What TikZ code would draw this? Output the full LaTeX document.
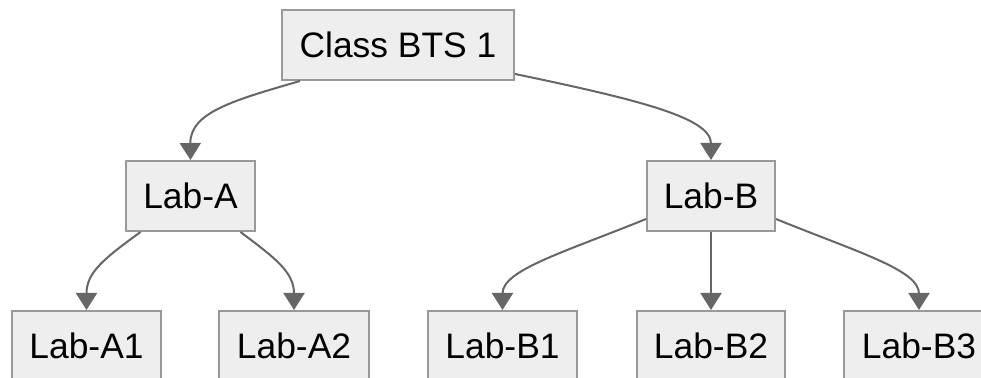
\documentclass[tikz,border=0pt]{standalone}
\usepackage{fontspec}
\setmainfont{Liberation Sans}
\usetikzlibrary{arrows.meta}
\definecolor{boxfill}{HTML}{EEEEEE}
\definecolor{boxline}{HTML}{999999}
\definecolor{edgeline}{HTML}{666666}
\begin{document}
\begin{tikzpicture}[x=0.5pt,y=-0.5pt,
  box/.style={draw=boxline, fill=boxfill, line width=1pt, inner sep=0pt,
    minimum height=35pt, font=\fontsize{17.7}{21}\selectfont, text=black},
  link/.style={draw=edgeline, line width=1pt,
    -{Triangle[length=8.5pt,width=10.5pt]}}]
  \useasboundingbox (0,0) rectangle (981,378);
  \clip (0,0) rectangle (981,378);

  % tree nodes
  \node[box, minimum width=116pt] (cls) at (398,45) {Class BTS 1};
  \node[box, minimum width=64.5pt] (la) at (190.5,196) {Lab-A};
  \node[box, minimum width=64pt] (lb) at (711,196) {Lab-B};
  \node[box, minimum width=74.5pt] (la1) at (86.5,346) {Lab-A1};
  \node[box, minimum width=75pt] (la2) at (294,346) {Lab-A2};
  \node[box, minimum width=74.5pt] (lb1) at (502.5,346) {Lab-B1};
  \node[box, minimum width=74pt] (lb2) at (711,346) {Lab-B2};
  \node[box, minimum width=75pt] (lb3) at (919,346) {Lab-B3};

  % connectors
  \draw[link] ([xshift=-49pt]cls.south) .. controls (235,100) and (190,112) .. (la.north);
  \draw[link] ([yshift=-14.5pt]cls.east) .. controls (640,100) and (711,118) .. (lb.north);
  \draw[link] ([xshift=-25pt]la.south) .. controls (105,258) and (86.5,272) .. (la1.north);
  \draw[link] ([xshift=25pt]la.south) .. controls (275,258) and (294,272) .. (la2.north);
  \draw[link] ([yshift=-11.5pt]lb.west) .. controls (565,252) and (502.5,270) .. (lb1.north);
  \draw[link] (lb.south) -- (lb2.north);
  \draw[link] ([yshift=-11.5pt]lb.east) .. controls (857,252) and (919,270) .. (lb3.north);
\end{tikzpicture}
\end{document}
